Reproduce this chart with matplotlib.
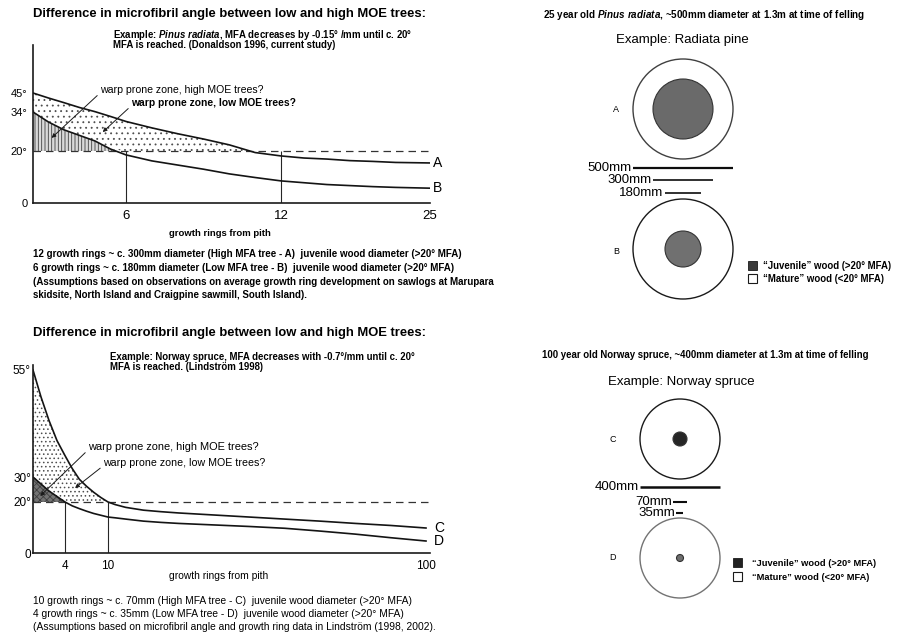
import numpy as np
import matplotlib.pyplot as plt
from matplotlib.patches import Circle, Rectangle

plt.rcParams['font.family'] = ['Liberation Sans', 'DejaVu Sans']
plt.rcParams['mathtext.fontset'] = 'custom'
plt.rcParams['mathtext.rm'] = 'Liberation Sans:bold'
plt.rcParams['mathtext.it'] = 'Liberation Sans:italic:bold'
plt.rcParams['hatch.linewidth'] = 0.6

W, H = 903, 638

# Pinus radiata: microfibril angle (deg) by growth ring from pith
pine_rings = [0, 1, 2, 3, 4, 5, 6, 7, 8, 9, 10, 11, 12, 14, 16, 18, 20, 22, 25]
pine_mfa_a = [45, 42.1, 39.4, 36.6, 34.2, 32.4, 30.6, 28.3, 26.2, 24.3, 22.2, 19.4,
              18.1, 17.3, 16.9, 16.3, 16.0, 15.6, 15.4]
pine_mfa_b = [34, 30.4, 27.6, 25.6, 23.6, 20.7, 18.5, 16.2, 14.6, 13.0, 11.2, 9.8,
              8.5, 7.8, 7.1, 6.7, 6.3, 6.0, 5.7]
pine_xticks = [6, 12, 25]
pine_yticks = [0, 20, 34, 45]
pine_juvenile_rings = [6, 12]

# Norway spruce
spruce_rings = [0, 1, 2, 3, 4, 5, 6, 7, 8, 9, 10, 12, 15, 20, 25, 30, 40, 50, 60, 70, 80, 90, 100]
spruce_mfa_c = [55, 48.7, 43.2, 38.5, 35.0, 32.0, 29.1, 26.3, 23.9, 21.8, 20.0, 19.0,
                17.9, 16.8, 16.2, 15.7, 14.9, 14.1, 13.3, 12.5, 11.6, 10.8, 9.8]
spruce_mfa_d = [30, 27.2, 24.4, 22.2, 20.0, 18.5, 17.4, 16.4, 15.5, 14.8, 14.1, 13.8,
                13.3, 12.5, 12.0, 11.6, 11.0, 10.4, 9.7, 8.6, 7.4, 6.0, 4.7]
spruce_xticks = [4, 10, 100]
spruce_yticks = [0, 20, 30, 55]
spruce_juvenile_rings = [4, 10]

mfa_limit = 20

# stem discs, diameters in mm
pine_stem = 500
pine_cores = [300, 180]        # A, B
spruce_stem = 400
spruce_cores = [70, 35]        # C, D


def fx(x, y):
    return (x / W, 1 - y / H)


def piecewise(src, dst):
    src = np.asarray(src, float)
    dst = np.asarray(dst, float)
    return (lambda v: np.interp(v, src, dst)), (lambda v: np.interp(v, dst, src))


def mfa_chart(rect, rings, hi, lo, names, xticks, yticks, juv, xmap, ymap,
              dot_hatch, core_hatch, core_face, xsize, ysize, ypad, name_off):
    ax = fig.add_axes(rect)
    ax.set_xscale('function', functions=piecewise(*xmap))
    ax.set_yscale('function', functions=piecewise(*ymap))
    ax.set_xlim(xmap[0][0], xmap[0][-1])
    ax.set_ylim(ymap[0][0], ymap[0][-1])
    hi = np.asarray(hi, float)
    lo = np.asarray(lo, float)
    floor = np.maximum(lo, mfa_limit)
    ax.fill_between(rings, hi, floor, where=hi >= floor, interpolate=True,
                    facecolor='none', edgecolor='0.3', hatch=dot_hatch, linewidth=0)
    ax.fill_between(rings, lo, mfa_limit, where=lo >= mfa_limit, interpolate=True,
                    facecolor=core_face, edgecolor='0.25', hatch=core_hatch, linewidth=0)
    ax.axhline(mfa_limit, color='0.2', lw=0.9, dashes=(6, 4))
    ax.vlines(juv, 0, mfa_limit, color='0.15', lw=0.8)
    ax.plot(rings, hi, color='0.08', lw=1.2)
    ax.plot(rings, lo, color='0.08', lw=1.2)
    for vals, nm in zip([hi, lo], names):
        ax.annotate(nm, (rings[-1], vals[-1]), xytext=(name_off, 0), textcoords='offset points',
                    ha='left', va='center', fontsize=10)
    for s in ['top', 'right']:
        ax.spines[s].set_visible(False)
    for s in ['left', 'bottom']:
        ax.spines[s].set_linewidth(1.2)
        ax.spines[s].set_color('0.1')
    ax.set_xticks(xticks, labels=[str(t) for t in xticks])
    ax.set_yticks(yticks, labels=[f'{t}°' if t else '0' for t in yticks])
    ax.tick_params(axis='x', length=0, labelsize=xsize, pad=5)
    ax.tick_params(axis='y', length=0, labelsize=ysize, pad=ypad)
    ax.patch.set_alpha(0)
    return ax


fig = plt.figure(figsize=(W / 100, H / 100), dpi=100)

arrow = dict(arrowstyle='-|>', color='0.1', lw=0.7, shrinkA=0, shrinkB=0,
             relpos=(0, 0.2), mutation_scale=6)

# ---- Pinus radiata chart ----
ax1 = mfa_chart([33 / W, 1 - 203 / H, 397 / W, 158 / H], pine_rings, pine_mfa_a, pine_mfa_b,
                ['A', 'B'], pine_xticks, pine_yticks, pine_juvenile_rings,
                ([0, 6, 12, 25], [0, 93, 248, 397]),
                ([0, 20, 34, 45, 72], [0, 52, 91, 110, 158]),
                '...', '|||||', '0.85', 9.5, 8, 4, 2)
ax1.annotate('warp prone zone, high MOE trees?', (1.2, 24.7), xytext=fx(100, 90),
             textcoords='figure fraction', ha='left', va='center', fontsize=7.6,
             arrowprops=arrow)
ax1.annotate('warp prone zone, low MOE trees?', (4.5, 26.8), xytext=fx(131, 103),
             textcoords='figure fraction', ha='left', va='center', fontsize=7.4, fontweight='bold',
             arrowprops=arrow)

# ---- Norway spruce chart ----
ax2 = mfa_chart([33 / W, 1 - 553 / H, 397 / W, 188 / H], spruce_rings, spruce_mfa_c, spruce_mfa_d,
                ['C', 'D'], spruce_xticks, spruce_yticks, spruce_juvenile_rings,
                ([0, 4, 10, 100, 101.1], [0, 32, 75, 393, 397]),
                ([0, 20, 30, 55, 56.2], [0, 51, 76, 183, 188]),
                '....', 'xxxxx', '0.45', 8.5, 8.5, 1.5, 6)
ax2.annotate('warp prone zone, high MOE trees?', (0.9, 22.4), xytext=fx(88, 447),
             textcoords='figure fraction', ha='left', va='center', fontsize=7.9,
             arrowprops=arrow)
ax2.annotate('warp prone zone, low MOE trees?', (5.4, 25.6), xytext=fx(103, 463),
             textcoords='figure fraction', ha='left', va='center', fontsize=7.7,
             arrowprops=arrow)

title = 'Difference in microfibril angle between low and high MOE trees:'
fig.text(*fx(33, 14), title, fontsize=9.4, fontweight='bold', va='center')
fig.text(*fx(33, 333), title, fontsize=9.4, fontweight='bold', va='center')

fig.text(*fx(113, 34.5), r'Example: $\mathit{Pinus\ radiata}$, MFA decreases by -0.15° /mm until c. 20°',
         fontsize=6.9, fontweight='bold', va='center')
fig.text(*fx(113, 45.5), 'MFA is reached. (Donaldson 1996, current study)',
         fontsize=6.9, fontweight='bold', va='center')
fig.text(*fx(110, 356.5), 'Example: Norway spruce, MFA decreases with -0.7°/mm until c. 20°',
         fontsize=6.9, fontweight='bold', va='center')
fig.text(*fx(110, 367.5), 'MFA is reached. (Lindström 1998)',
         fontsize=6.9, fontweight='bold', va='center')

fig.text(*fx(220, 233), 'growth rings from pith', fontsize=6.8, fontweight='bold', ha='center', va='center')
fig.text(*fx(219, 576), 'growth rings from pith', fontsize=7.4, ha='center', va='center')

pine_notes = [
    '12 growth rings ~ c. 300mm diameter (High MFA tree - A)  juvenile wood diameter (>20° MFA)',
    '6 growth rings ~ c. 180mm diameter (Low MFA tree - B)  juvenile wood diameter (>20° MFA)',
    '(Assumptions based on observations on average growth ring development on sawlogs at Marupara',
    'skidsite, North Island and Craigpine sawmill, South Island).',
]
for i, line in enumerate(pine_notes):
    fig.text(*fx(33, 254 + 13.8 * i), line, fontsize=7.0, fontweight='bold', va='center')

spruce_notes = [
    '10 growth rings ~ c. 70mm (High MFA tree - C)  juvenile wood diameter (>20° MFA)',
    '4 growth rings ~ c. 35mm (Low MFA tree - D)  juvenile wood diameter (>20° MFA)',
    '(Assumptions based on microfibril angle and growth ring data in Lindström (1998, 2002).',
]
for i, line in enumerate(spruce_notes):
    fig.text(*fx(33, 601 + 13.2 * i), line, fontsize=7.35, va='center')


# ---- stem discs (axes in mm, 0.2 px per mm) ----
def disc_panel(top_px, cx, stem, cores, centres, bar_y, labels, label_y, core_colors, edge_colors, bar_lw):
    ax = fig.add_axes([560 / W, 1 - (top_px + 250) / H, 250 / W, 250 / H])
    ax.set_xlim(0, 1250)
    ax.set_ylim(0, 1250)
    ax.axis('off')
    for core, cy, cc, ec in zip(cores, centres, core_colors, edge_colors):
        ax.add_patch(Circle((cx, cy), stem / 2, facecolor='white', edgecolor=ec, lw=1.0))
        ax.add_patch(Circle((cx, cy), core / 2, facecolor=cc, edgecolor='0.2', lw=0.8))
    for d, y, lw in zip([stem] + cores, bar_y, bar_lw):
        ax.plot([cx - d / 2, cx + d / 2], [y, y], color='0.05', lw=lw, solid_capstyle='butt')
        ax.annotate(f'{d}mm', (cx - d / 2, y), xytext=(-1, 0), textcoords='offset points',
                    ha='right', va='center', fontsize=9.5)
    for lab, ly in zip(labels, label_y):
        fig.text(*fx(cx / 5 + 560 - 67, ly), lab, fontsize=6.5, ha='center', va='center')
    return ax


disc_panel(55, 615, pine_stem, pine_cores, [980, 280], [685, 625, 560], ['A', 'B'], [109, 251],
           ['#6a6a6a', '#707070'], ['0.25', '0.1'], [1.6, 1.2, 1.2])
disc_panel(380, 600, spruce_stem, spruce_cores, [955, 360], [715, 640, 585], ['C', 'D'], [439, 558],
           ['#262626', '#6e6e6e'], ['0.1', '0.45'], [1.8, 1.5, 1.5])

fig.text(*fx(543, 15), r'25 year old $\mathit{Pinus\ radiata}$, ~500mm diameter at 1.3m at time of felling',
         fontsize=7.1, fontweight='bold', va='center')
fig.text(*fx(682, 40), 'Example: Radiata pine', fontsize=9.5, ha='center', va='center')
fig.text(*fx(542, 355), '100 year old Norway spruce, ~400mm diameter at 1.3m at time of felling',
         fontsize=6.95, fontweight='bold', va='center')
fig.text(*fx(681, 382), 'Example: Norway spruce', fontsize=9.5, ha='center', va='center')

# legend swatches
juv_text = '\u201cJuvenile\u201d wood (>20° MFA)'
mat_text = '\u201cMature\u201d wood (<20° MFA)'
for (sx, tx, y1, y2, face, fs) in [(748, 763, 266, 279, '#3a3a3a', 6.9),
                                   (733, 752, 563, 577, '#222222', 6.7)]:
    fig.add_artist(Rectangle(fx(sx, y1 + 4), 9 / W, 9 / H, transform=fig.transFigure,
                             facecolor=face, edgecolor='0.1', lw=0.6))
    fig.add_artist(Rectangle(fx(sx, y2 + 4), 9 / W, 9 / H, transform=fig.transFigure,
                             facecolor='white', edgecolor='0.1', lw=0.8))
    fig.text(*fx(tx, y1), juv_text, fontsize=fs, fontweight='bold', va='center')
    fig.text(*fx(tx, y2), mat_text, fontsize=fs, fontweight='bold', va='center')

fig.savefig('out.png', dpi=100)
